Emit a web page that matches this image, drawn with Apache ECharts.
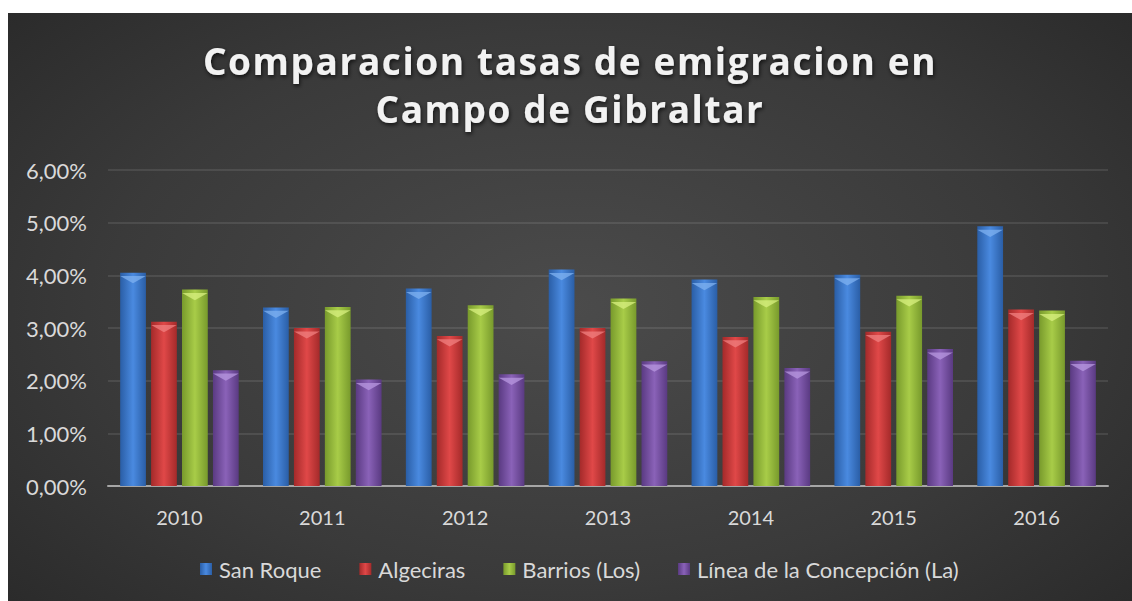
<!DOCTYPE html>
<html><head><meta charset="utf-8">
<script src="https://cdn.jsdelivr.net/npm/echarts@6/dist/echarts.min.js"></script>
<style>
html,body{margin:0;padding:0;background:#fff;width:1132px;height:601px;overflow:hidden;}
#c{position:absolute;left:8px;top:13px;width:1124px;height:588px;
background:radial-gradient(ellipse 75% 85% at 50% 50%, #4b4b4b 0%, #3a3a3a 55%, #262626 100%);}
#c svg text[style*="37px"]{letter-spacing:1.6px;}
</style></head>
<body><div id="c"></div>
<script>
var titleText = 'Comparacion tasas de emigracion en\nCampo de Gibraltar';
var years = ['2010','2011','2012','2013','2014','2015','2016'];
var seriesNames = ['San Roque','Algeciras','Barrios (Los)','Línea de la Concepción (La)'];
var sanRoque  = [4.05, 3.39, 3.75, 4.11, 3.92, 4.01, 4.93];
var algeciras = [3.12, 3.00, 2.85, 3.00, 2.83, 2.93, 3.35];
var barrios   = [3.73, 3.40, 3.43, 3.56, 3.59, 3.61, 3.33];
var linea     = [2.20, 2.02, 2.12, 2.37, 2.24, 2.60, 2.38];
var yTicks = [0,1,2,3,4,5,6];

var palette = [
  ['#2a5ea6','#4a8ae0','#2a5ea6'],
  ['#a42a2a','#e04848','#a42a2a'],
  ['#789a2c','#a8cc48','#789a2c'],
  ['#5a3a82','#8a62b8','#5a3a82']
];
var topCol = ['#7fb2f0','#f08080','#d8f080','#b898e0'];
var data = [sanRoque, algeciras, barrios, linea];

function grad(c){
  return {type:'linear',x:0,y:0,x2:1,y2:0,colorStops:[
    {offset:0,color:c[0]},{offset:0.5,color:c[1]},{offset:1,color:c[2]}]};
}
var series = [];
data.forEach(function(d,i){
  series.push({name:seriesNames[i],type:'bar',data:d,barGap:'20%',barCategoryGap:'17%',
    itemStyle:{color:grad(palette[i])},
    emphasis:{disabled:true}});
});
data.forEach(function(d,i){
  series.push({name:seriesNames[i]+'_top',type:'pictorialBar',data:d,barGap:'20%',barCategoryGap:'17%',
    symbol:'path://M0,0 L2,0 L1,1 Z',symbolSize:['100%',7],symbolPosition:'end',symbolOffset:[0,'50%'],
    itemStyle:{color:topCol[i],opacity:0.75},z:3,silent:true,tooltip:{show:false}});
});

var chart = echarts.init(document.getElementById('c'), null, {renderer:'svg'});
chart.setOption({
  animation:false,
  title:{text:titleText,left:'center',top:18,
    textStyle:{color:'#f2f2f2',fontFamily:'Open Sans',fontWeight:'bold',fontSize:37,lineHeight:48,
      textShadowColor:'rgba(0,0,0,0.7)',textShadowBlur:4,textShadowOffsetX:1,textShadowOffsetY:2}},
  legend:{data:seriesNames,bottom:16,left:187,itemWidth:12,itemHeight:12,itemGap:38,
    icon:'rect',textStyle:{color:'#d9d9d9',fontFamily:'Lato',fontSize:22,padding:[0,0,0,2]}},
  grid:{left:100,right:24,top:157,bottom:115,containLabel:false},
  xAxis:{type:'category',data:years,
    axisLine:{lineStyle:{color:'#a6a6a6',width:2}},axisTick:{show:false},
    axisLabel:{color:'#d9d9d9',fontFamily:'Lato',fontSize:20,margin:21}},
  yAxis:{type:'value',min:0,max:6,interval:1,
    axisLine:{show:false},axisTick:{show:false},
    splitLine:{lineStyle:{color:'rgba(255,255,255,0.13)',width:1.5}},
    axisLabel:{color:'#d9d9d9',fontFamily:'Lato',fontSize:22,margin:21,
      formatter:function(v){return v.toFixed(2).replace('.',',')+'%';}}},
  series:series
});
</script></body></html>
